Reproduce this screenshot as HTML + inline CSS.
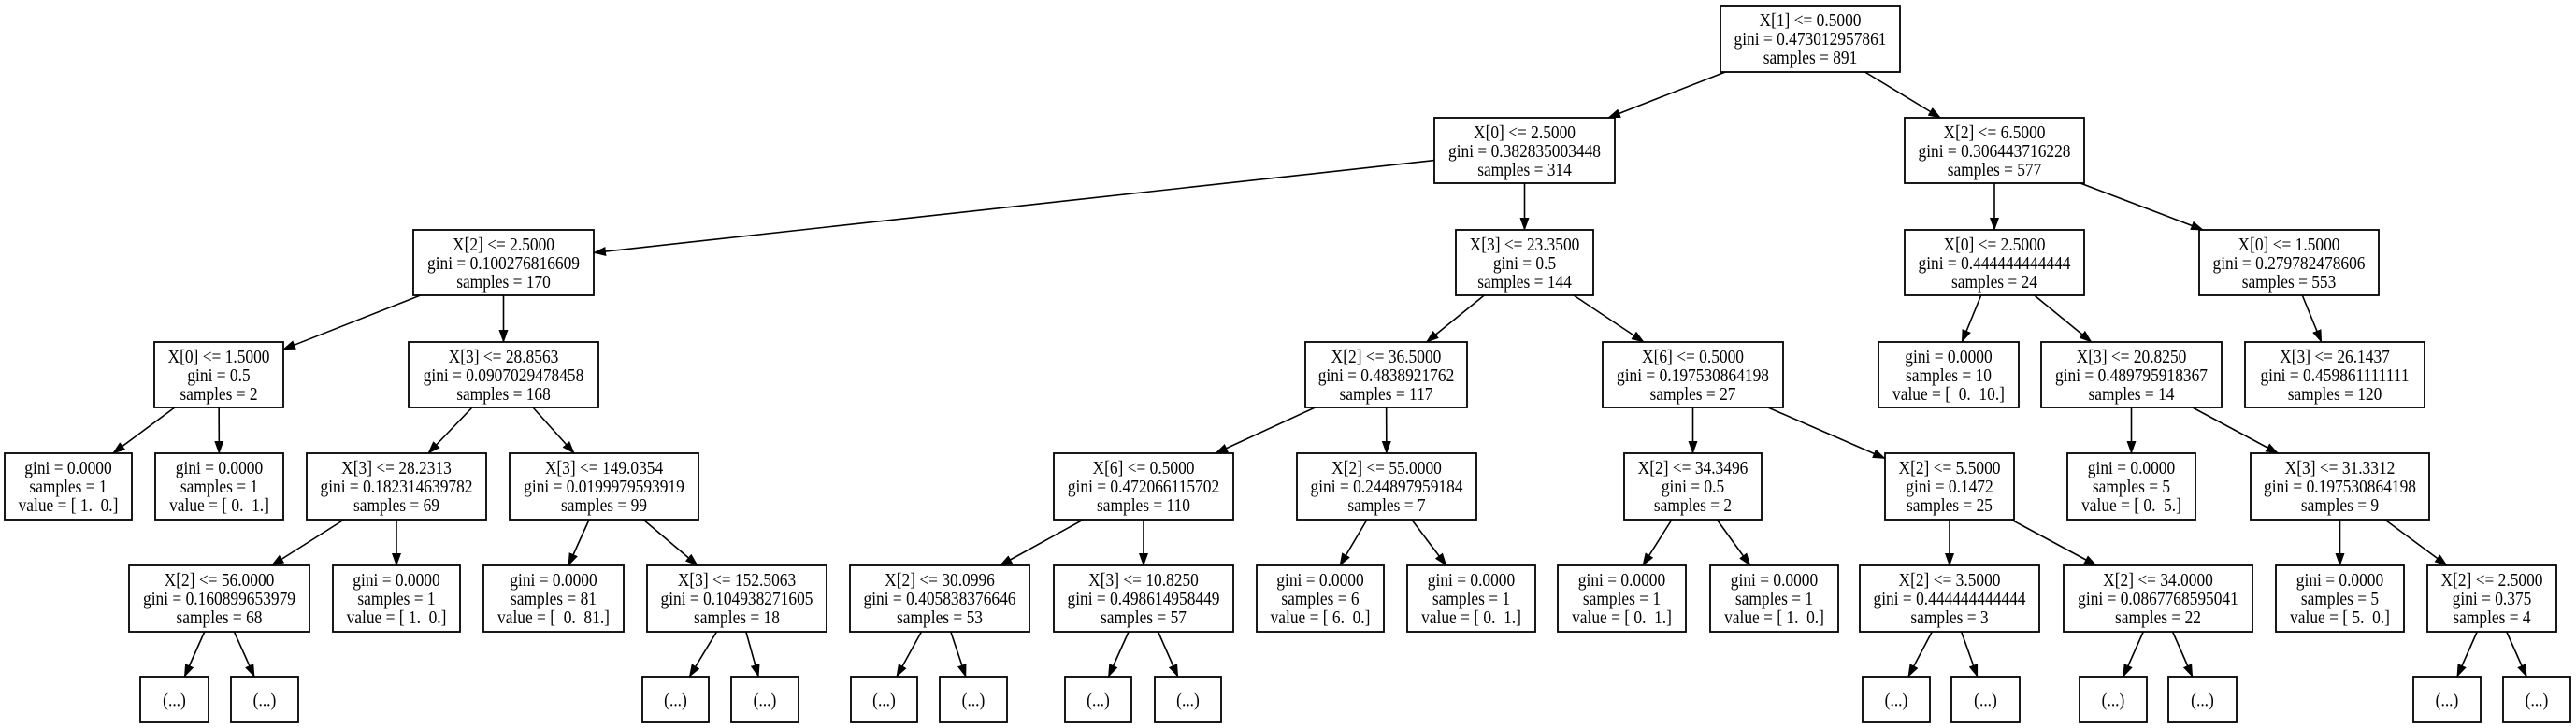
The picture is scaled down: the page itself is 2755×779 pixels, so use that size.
<!DOCTYPE html>
<html><head><meta charset="utf-8"><style>
html,body{margin:0;padding:0;background:#fff;}
svg{display:block;}
text{font-family:"Liberation Serif",serif;font-size:20px;fill:#000;white-space:pre;}
</style></head><body>
<svg id="s" width="2755" height="779" xmlns="http://www.w3.org/2000/svg">
<defs><marker id="ah" markerWidth="14" markerHeight="10" refX="13" refY="5" orient="auto" markerUnits="userSpaceOnUse"><path d="M0,0 L14,5 L0,10 z" fill="#000"/></marker></defs>
</svg>
<script>
var R=[[6,77],[126,196],[246,316],[366,436],[485,556],[605,676],[724,773]];
var N={};
function n(id,r,x1,x2,lines){N[id]={r:r,x1:x1,x2:x2,lines:lines};}
function lf(s,v){return ["gini = 0.0000","samples = "+s,"value = "+v];}
n("A",0,1840,2032,["X[1] <= 0.5000","gini = 0.473012957861","samples = 891"]);
n("B",1,1534,1727,["X[0] <= 2.5000","gini = 0.382835003448","samples = 314"]);
n("C",1,2037,2229,["X[2] <= 6.5000","gini = 0.306443716228","samples = 577"]);
n("D",2,442,635,["X[2] <= 2.5000","gini = 0.100276816609","samples = 170"]);
n("E",2,1557,1704,["X[3] <= 23.3500","gini = 0.5","samples = 144"]);
n("F",2,2037,2229,["X[0] <= 2.5000","gini = 0.444444444444","samples = 24"]);
n("G",2,2352,2544,["X[0] <= 1.5000","gini = 0.279782478606","samples = 553"]);
n("H",3,165,303,["X[0] <= 1.5000","gini = 0.5","samples = 2"]);
n("I",3,437,640,["X[3] <= 28.8563","gini = 0.0907029478458","samples = 168"]);
n("J",3,1396,1569,["X[2] <= 36.5000","gini = 0.4838921762","samples = 117"]);
n("K",3,1714,1907,["X[6] <= 0.5000","gini = 0.197530864198","samples = 27"]);
n("L",3,2009,2159,lf("10","[  0.  10.]"));
n("M",3,2183,2376,["X[3] <= 20.8250","gini = 0.489795918367","samples = 14"]);
n("N",3,2401,2593,["X[3] <= 26.1437","gini = 0.459861111111","samples = 120"]);
n("O",4,5,141,lf("1","[ 1.  0.]"));
n("P",4,166,303,lf("1","[ 0.  1.]"));
n("Q",4,328,520,["X[3] <= 28.2313","gini = 0.182314639782","samples = 69"]);
n("R",4,545,747,["X[3] <= 149.0354","gini = 0.0199979593919","samples = 99"]);
n("S",4,1127,1319,["X[6] <= 0.5000","gini = 0.472066115702","samples = 110"]);
n("T",4,1387,1579,["X[2] <= 55.0000","gini = 0.244897959184","samples = 7"]);
n("U",4,1737,1884,["X[2] <= 34.3496","gini = 0.5","samples = 2"]);
n("V",4,2016,2154,["X[2] <= 5.5000","gini = 0.1472","samples = 25"]);
n("W",4,2211,2348,lf("5","[ 0.  5.]"));
n("X",4,2407,2598,["X[3] <= 31.3312","gini = 0.197530864198","samples = 9"]);
n("Y",5,138,331,["X[2] <= 56.0000","gini = 0.160899653979","samples = 68"]);
n("Z",5,356,492,lf("1","[ 1.  0.]"));
n("a1",5,517,667,lf("81","[  0.  81.]"));
n("a2",5,692,884,["X[3] <= 152.5063","gini = 0.104938271605","samples = 18"]);
n("b1",5,909,1101,["X[2] <= 30.0996","gini = 0.405838376646","samples = 53"]);
n("b2",5,1127,1319,["X[3] <= 10.8250","gini = 0.498614958449","samples = 57"]);
n("c1",5,1344,1480,lf("6","[ 6.  0.]"));
n("c2",5,1505,1642,lf("1","[ 0.  1.]"));
n("d1",5,1666,1803,lf("1","[ 0.  1.]"));
n("d2",5,1829,1966,lf("1","[ 1.  0.]"));
n("e1",5,1989,2181,["X[2] <= 3.5000","gini = 0.444444444444","samples = 3"]);
n("e2",5,2207,2409,["X[2] <= 34.0000","gini = 0.0867768595041","samples = 22"]);
n("f1",5,2434,2571,lf("5","[ 5.  0.]"));
n("f2",5,2596,2734,["X[2] <= 2.5000","gini = 0.375","samples = 4"]);
var E=[["A","B"],["A","C"],["B","D"],["B","E"],["C","F"],["C","G"],["D","H"],["D","I"],["E","J"],["E","K"],["F","L"],["F","M"],["G","N"],
["H","O"],["H","P"],["I","Q"],["I","R"],["J","S"],["J","T"],["K","U"],["K","V"],["M","W"],["M","X"],
["Q","Y"],["Q","Z"],["R","a1"],["R","a2"],["S","b1"],["S","b2"],["T","c1"],["T","c2"],["U","d1"],["U","d2"],["V","e1"],["V","e2"],["X","f1"],["X","f2"]];
var dots={Y:[[150,223],[247,319]],a2:[[687,758],[782,854]],b1:[[910,981],[1005,1077]],b2:[[1139,1210],[1235,1306]],e1:[[1992,2064],[2087,2160]],e2:[[2224,2296],[2319,2392]],f2:[[2581,2653],[2677,2749]]};
for(var p in dots){dots[p].forEach(function(d,i){var id=p+"_"+i;n(id,6,d[0],d[1],["(...)"]);E.push([p,id]);});}
var s=document.getElementById("s"),out="";
function box(o){return {x1:o.x1,x2:o.x2,y1:R[o.r][0],y2:R[o.r][1],cx:(o.x1+o.x2)/2,cy:(R[o.r][0]+R[o.r][1])/2};}
function clip(b,dx,dy){var t=1e9;
 if(dx>0)t=Math.min(t,(b.x2-b.cx)/dx); if(dx<0)t=Math.min(t,(b.x1-b.cx)/dx);
 if(dy>0)t=Math.min(t,(b.y2-b.cy)/dy); if(dy<0)t=Math.min(t,(b.y1-b.cy)/dy);
 return [b.cx+dx*t,b.cy+dy*t];}
E.forEach(function(e){var a=box(N[e[0]]),b=box(N[e[1]]);var dx=b.cx-a.cx,dy=b.cy-a.cy;
 var p=clip(a,dx,dy),q=clip(b,-dx,-dy);
 out+='<line x1="'+p[0]+'" y1="'+p[1]+'" x2="'+q[0]+'" y2="'+q[1]+'" stroke="#000" stroke-width="1.6" marker-end="url(#ah)"/>';});
function tx(x,y,t){t=t.replace(/&/g,"&amp;").replace(/</g,"&lt;");
 return '<text transform="translate('+x+','+y+') scale(0.87,1)" x="0" y="0" text-anchor="middle" xml:space="preserve">'+t+'</text>';}
for(var k in N){var b=box(N[k]),o=N[k];
 out+='<rect x="'+b.x1+'" y="'+b.y1+'" width="'+(b.x2-b.x1)+'" height="'+(b.y2-b.y1)+'" fill="#fff" stroke="#000" stroke-width="1.8"/>';
 if(o.lines.length==1){out+=tx(b.cx,b.cy+7,o.lines[0]);}
 else o.lines.forEach(function(t,i){out+=tx(b.cx,b.y1+22+i*20,t);});}
s.insertAdjacentHTML("beforeend",out);
</script>
</body></html>
